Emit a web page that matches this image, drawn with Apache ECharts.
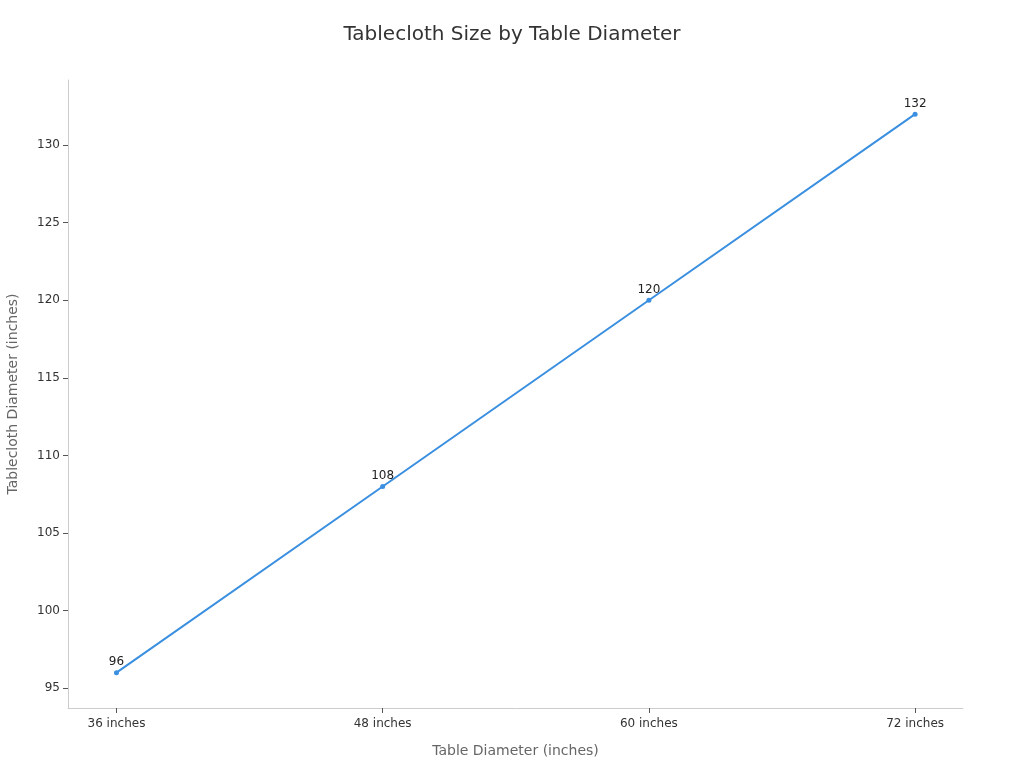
<!DOCTYPE html>
<html>
<head>
<meta charset="utf-8">
<script src="https://cdn.jsdelivr.net/npm/echarts@6/dist/echarts.min.js"></script>
<style>
html,body{margin:0;padding:0;background:#fff;}
#chart{width:1024px;height:768px;}
</style>
</head>
<body>
<div id="chart"></div>
<script>
var categories = ['36 inches', '48 inches', '60 inches', '72 inches'];
var tableclothSizes = [96, 108, 120, 132];
var yTickValues = [95, 100, 105, 110, 115, 120, 125, 130];
var xTickValues = [0, 1, 2, 3];

var points = tableclothSizes.map(function (v, i) { return [i, v]; });
var font = 'DejaVu Sans';

var chart = echarts.init(document.getElementById('chart'), null, { renderer: 'canvas' });
chart.setOption({
  backgroundColor: '#ffffff',
  animation: false,
  title: {
    text: 'Tablecloth Size by Table Diameter',
    left: 'center',
    top: 20,
    textStyle: { fontFamily: font, fontSize: 20, fontWeight: 'normal', color: '#333333' }
  },
  grid: { left: 68, right: 61, top: 80, bottom: 60, containLabel: false, outerBoundsMode: 'none' },
  xAxis: {
    type: 'value',
    min: -0.182,
    max: 3.18,
    name: 'Table Diameter (inches)',
    nameLocation: 'middle',
    nameGap: 36,
    nameTextStyle: { fontFamily: font, fontSize: 14, color: '#666666' },
    axisLine: { show: true, onZero: false, lineStyle: { color: '#cccccc', width: 1 } },
    axisTick: { show: true, customValues: xTickValues, length: 5, lineStyle: { color: '#555555', width: 1 } },
    axisLabel: {
      customValues: xTickValues,
      fontFamily: font, fontSize: 12, color: '#333333', margin: 10,
      formatter: function (v) { return categories[Math.round(v)] || ''; }
    },
    splitLine: { show: false }
  },
  yAxis: {
    type: 'value',
    min: 93.72,
    max: 134.2,
    name: 'Tablecloth Diameter (inches)',
    nameLocation: 'middle',
    nameGap: 48,
    nameTextStyle: { fontFamily: font, fontSize: 14, color: '#666666' },
    axisLine: { show: true, onZero: false, lineStyle: { color: '#cccccc', width: 1 } },
    axisTick: { show: true, customValues: yTickValues, length: 5, lineStyle: { color: '#555555', width: 1 } },
    axisLabel: {
      customValues: yTickValues,
      fontFamily: font, fontSize: 12, color: '#333333', margin: 8
    },
    splitLine: { show: false }
  },
  series: [{
    type: 'line',
    data: points,
    color: '#3a8fe0',
    lineStyle: { width: 2, color: '#3a8fe0' },
    symbol: 'circle',
    symbolSize: 5,
    itemStyle: { color: '#3a8fe0' },
    label: {
      show: true,
      position: 'top',
      distance: 2,
      fontFamily: font, fontSize: 12, color: '#222222',
      formatter: function (p) { return p.value[1]; }
    }
  }]
});
</script>
</body>
</html>
